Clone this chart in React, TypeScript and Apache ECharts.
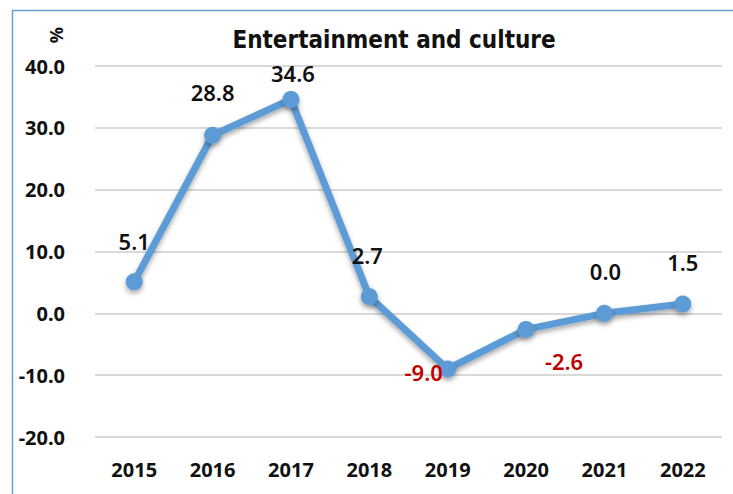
import React, { useEffect, useRef } from "react";
import * as echarts from "echarts";

const categories = ["2015", "2016", "2017", "2018", "2019", "2020", "2021", "2022"];
const values = [5.1, 28.8, 34.6, 2.7, -9.0, -2.6, 0.0, 1.5];
const labelOffsets: [number, number][] = [
  [0, -41], [0, -43], [2, -26], [-2, -42], [-24, 3], [38, 32], [1, -42], [0, -42],
];
const yTicks = { min: -20, max: 40, interval: 10 };

export default function App() {
  const ref = useRef<HTMLDivElement>(null);
  useEffect(() => {
    const chart = echarts.init(ref.current!, null, { renderer: "svg" });
    chart.setOption({
      animation: false,
      backgroundColor: "#ffffff",
      title: {
        text: "Entertainment and culture",
        left: 389,
        top: 23,
        textAlign: "center",
        textStyle: { fontFamily: "DejaVu Sans Condensed", fontWeight: "bold", fontSize: 24, color: "#111" },
      },
      graphic: [
        { type: "rect", shape: { x: 12.5, y: 10.5, width: 740, height: 500 }, style: { fill: "none", stroke: "#6A9FD8", lineWidth: 1.5 }, silent: true },
        { type: "text", x: 56, y: 35, rotation: Math.PI / 2, style: { text: "%", fontFamily: "Noto Sans", fontWeight: "bold", fontSize: 18, fill: "#111", align: "center", verticalAlign: "middle" } },
      ],
      grid: { left: 95, right: 11, top: 66, bottom: 57 },
      xAxis: {
        type: "category",
        data: categories,
        axisLine: { show: false },
        axisTick: { show: false },
        axisLabel: { margin: 22, fontFamily: "Noto Sans", fontWeight: "bold", fontSize: 20, color: "#111" },
      },
      yAxis: {
        type: "value",
        min: yTicks.min,
        max: yTicks.max,
        interval: yTicks.interval,
        axisLine: { show: false },
        axisTick: { show: false },
        splitLine: { lineStyle: { color: "#d9d9d9", width: 2 } },
        axisLabel: {
          margin: 30,
          formatter: (v: number) => v.toFixed(1),
          fontFamily: "Noto Sans", fontWeight: "bold", fontSize: 20, color: "#111",
        },
      },
      series: [
        {
          type: "line",
          data: values.map((v, i) => ({
            value: v,
            label: {
              show: true,
              position: "inside",
              offset: labelOffsets[i],
              color: v < 0 ? "#C00000" : "#111",
              formatter: () => v.toFixed(1),
            },
          })),
          symbol: "circle",
          symbolSize: 17,
          lineStyle: { color: "#5B9BD5", width: 7, shadowColor: "rgba(0,0,0,0.35)", shadowBlur: 5, shadowOffsetY: 3 },
          itemStyle: { color: "#5B9BD5", shadowColor: "rgba(0,0,0,0.35)", shadowBlur: 5, shadowOffsetY: 3 },
          label: { fontFamily: "Noto Sans", fontWeight: 600, fontSize: 22 },
        },
      ],
    });
    return () => chart.dispose();
  }, []);
  return <div ref={ref} style={{ width: 733, height: 494, position: "fixed", left: 0, top: 0 }} />;
}
